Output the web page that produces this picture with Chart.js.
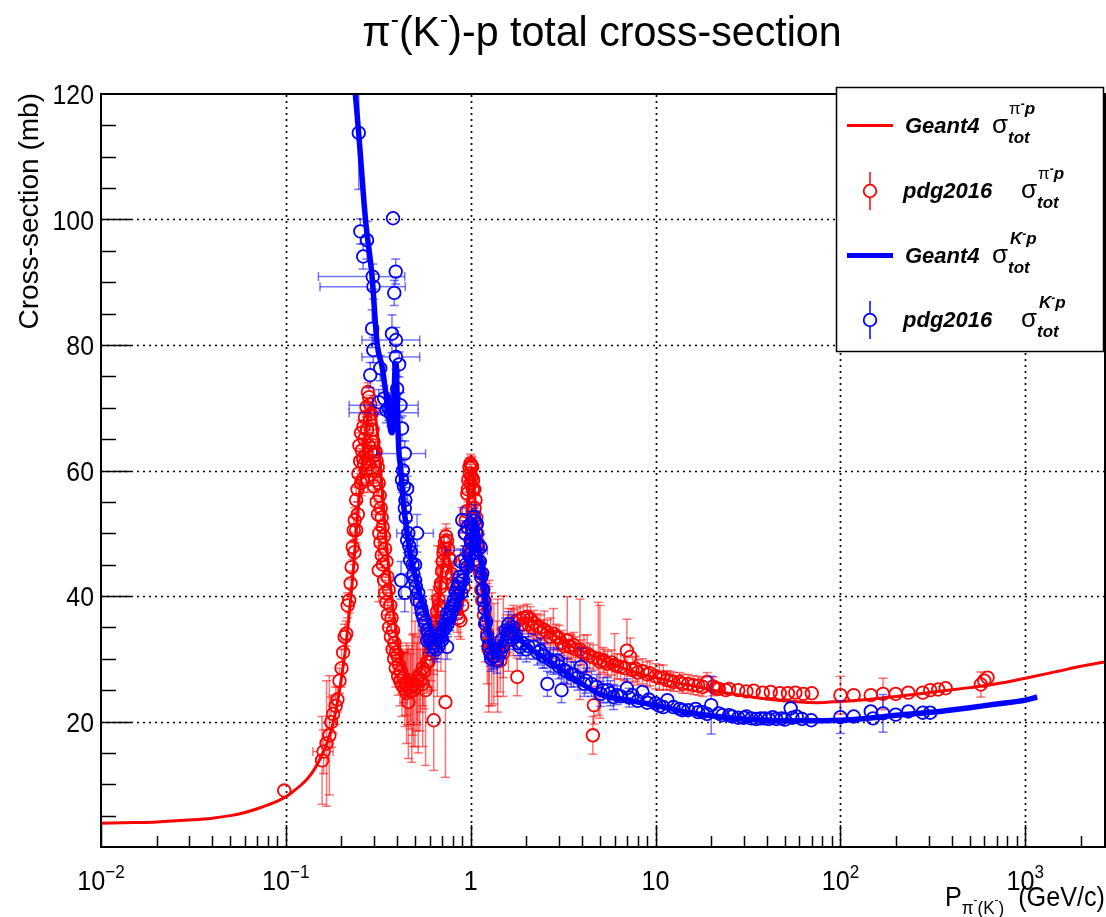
<!DOCTYPE html>
<html>
<head>
<meta charset="utf-8">
<script src="https://cdn.jsdelivr.net/npm/chart.js@4.4.1/dist/chart.umd.min.js"></script>
<style>
html,body{margin:0;padding:0;background:#fff;}
canvas{display:block;}
</style>
</head>
<body>
<canvas id="c" width="1106" height="917"></canvas>
<script>
// ---------------- axis ticks ----------------
const xMajor = [0.01, 0.1, 1, 10, 100, 1000];
const xLabelBase = ['10', '10', '1', '10', '10', '10'];
const xLabelExp  = ['\u22122', '\u22121', '', '', '2', '3'];
const yMajor = [20, 40, 60, 80, 100, 120];
const X_MIN = 0.01, X_MAX = 2700, Y_MIN = 0, Y_MAX = 120;

// ---------------- Geant4 pi- p total cross-section (line) ----------------
const g4PiP = [0.01,0.015,0.02,0.03,0.04,0.05,0.06,0.07,0.08,0.09,
  0.10,0.11,0.12,0.13,0.14,0.15,0.16,0.17,0.18,0.19,
  0.20,0.21,0.22,0.23,0.24,0.25,0.26,0.27,0.28,0.29,
  0.30,0.31,0.32,0.33,0.34,0.35,0.36,0.37,0.38,
  0.40,0.42,0.44,0.46,0.48,0.50,
  0.53,0.56,0.60,0.64,0.67,0.70,0.72,0.74,0.76,0.78,
  0.81,0.84,0.87,0.90,0.93,0.96,0.98,1.00,1.02,1.04,
  1.07,1.10,1.15,1.20,1.25,1.30,1.40,1.50,1.60,1.75,
  1.90,2.05,2.3,2.6,3.0,3.5,4.0,5.0,6.0,7.0,
  8.5,10,13,17,22,30,40,55,75,100,
  150,200,300,500,700,1000,1500,2000,2700];
const g4PiS = [3.8,3.9,4.0,4.3,4.6,5.0,5.5,6.1,6.7,7.3,
  8.0,8.9,9.8,10.8,12.0,13.5,15.2,17.2,19.8,23,
  27,31.5,37,43,50,56,61.5,66,69,70.5,
  70,67,63,58,53,48.5,44.5,41,38,
  33.5,30,27.8,26.8,26.5,26.8,
  27.8,29.3,31.5,35,39,44,46.5,47.5,46.5,44.5,
  41.5,38.5,37,38.5,44,53,58,60,59.5,57.5,
  53,48,41,36.5,34,32.5,31,31.5,33.5,35.5,
  36.3,36.5,35.5,34.5,33.2,32,31.2,30,29,28.3,
  27.5,27,26.2,25.5,24.8,24.1,23.6,23.2,23.0,23.2,
  23.6,24.0,24.6,25.4,26.0,26.9,28.0,28.8,29.5];

// ---------------- Geant4 K- p total cross-section (line) ----------------
const g4KP = [0.232,0.2377,0.2477,0.2693,0.2926,0.3114,0.3318,0.345,0.360,0.368,
  0.376,0.384,0.390,0.395,0.400,0.405,0.41,0.417,0.43,0.453,
  0.48,0.513,0.545,0.581,0.61,0.631,0.66,0.70,0.74,0.777,
  0.83,0.88,0.918,0.96,0.997,1.02,1.039,1.06,1.09,1.12,
  1.154,1.19,1.228,1.27,1.308,1.35,1.42,1.5,1.577,1.65,
  1.75,1.9,2.188,2.6,3.33,4.0,5.05,6.5,8,10,
  14,20,30,40,60,100,150,200,321,500,
  700,1000,1160];
const g4KS = [124,120,113.8,100.2,90.9,80.3,76.5,73,69.6,66.5,
  66,71,76.5,77,72,66,62.5,60.6,55.5,50,
  45.5,42,39,36.7,34.5,33.2,33,34,35.5,36.1,
  38.5,40,41.4,44,46.2,50,52,51.5,49,46.5,
  44.6,40.5,36.7,33,30.9,30.3,31.5,33.5,35,35,
  34,32.7,31.3,29.8,27.6,26.0,24.3,23.6,23.1,22.6,
  21.6,20.9,20.4,20.2,20.1,20.2,20.6,21.0,21.5,22.2,
  22.8,23.4,23.9];

// ---------------- pdg2016 pi- p data (momentum, sigma, sigma error) ----------------
const pdgPiP = [0.098,0.157,0.166,0.172,0.176,0.180,0.186,0.190,0.195,
  0.200,0.204,0.208,0.212,0.216,0.220,0.224,0.227,0.230,0.233,
  0.236,0.240,0.244,0.247,0.252,0.258,0.263,0.268,0.273,0.278,
  0.282,0.286,0.250,0.255,0.262,0.266,0.270,0.275,0.280,0.285,
  0.290,0.294,0.298,0.302,0.306,0.310,0.314,0.318,0.322,0.326,
  0.318,0.330,0.334,0.339,0.344,0.350,0.355,0.360,0.367,0.373,
  0.380,0.387,0.395,0.400,0.410,0.420,0.433,0.445,0.455,0.460,
  0.472,0.485,0.500,0.513,0.530,0.550,0.570,0.580,0.600,0.620,
  0.631,0.640,0.657,0.670,0.685,0.700,0.714,0.725,0.735,0.745,
  0.730,0.755,0.765,0.777,0.790,0.800,0.810,0.830,0.845,0.860,
  0.880,0.900,0.918,0.930,0.937,0.950,0.958,0.970,0.985,0.997,
  1.008,1.018,1.030,1.045,1.061,1.072,1.084,1.100,1.115,1.130,
  1.154,1.180,1.200,1.228,1.260,1.300,1.334,1.390,1.445,1.500,
  1.577,1.650,1.720,1.786,1.786,1.850,1.930,2.020,2.100,2.200,
  2.300,2.380,2.500,2.600,2.800,3.000,3.330,3.600,3.900,4.270,
  4.580,4.640,4.900,5.500,6.000,6.480,7.000,7.300,7.800,8.500,
  9.3,10,11,12,13.5,15,17,19,20.5,22,
  25,28,31,34,38,42,47,52,57,63,
  70,100,118,146,170,199,233,279,306,338,
  371,575,600,625,0.48,0.52,0.55,0.66,0.69,1.25,
  1.40,1.50,5.0,2.9,3.2,3.5,4.0,4.4,5.2,5.8];
const pdgPiS = [9.0,13.8,16.5,17.8,19.9,21.2,22.5,23.5,26.5,
  28.5,31.0,33.5,34.0,38.5,39.3,42.0,44.6,47.8,50.5,
  52.1,55.3,57.0,59.5,61.5,63.2,67.0,68.5,70.1,72.5,
  71.7,70.5,64.0,66.0,62.0,65.0,60.0,66.5,64.0,68.0,
  69.0,66.5,64.5,62.5,63.0,61.5,60.5,58.0,56.0,54.0,
  44.1,52.5,51.0,49.5,47.5,45.5,43.0,41.0,38.5,36.5,
  34.5,32.5,31.0,30.5,29.0,28.0,27.0,26.0,25.5,23.1,
  25.5,25.8,26.0,26.5,27.5,28.5,25.0,29.5,30.8,33.0,
  20.2,35.0,37.5,39.5,41.4,44.0,46.8,48.5,49.5,48.8,
  23.1,47.5,46.0,45.7,43.5,42.0,41.4,39.0,37.2,36.5,
  36.1,38.5,41.4,46.0,49.9,53.5,56.3,58.5,60.5,61.1,
  60.8,60.6,58.5,57.0,55.3,52.5,50.0,47.5,45.5,43.6,
  39.3,37.0,35.5,34.0,32.5,31.5,30.8,30.0,29.7,31.0,
  34.0,35.0,35.8,36.1,27.1,36.3,36.5,36.7,36.3,35.7,
  35.2,35.0,34.6,34.2,34.0,33.3,32.9,32.2,31.5,30.8,
  17.8,22.6,30.0,29.2,29.0,28.7,31.3,30.3,28.4,28.0,
  27.7,27.2,27.0,26.5,26.3,26.0,25.7,26.3,25.6,25.2,
  25.2,25.0,24.8,24.9,24.6,24.7,24.5,24.5,24.6,24.4,
  24.5,24.2,24.2,24.2,24.4,24.4,24.6,24.6,25.0,25.1,
  25.3,25.9,26.5,27.0,26.5,27.0,26.0,36.0,38.0,31.5,
  30.5,32.0,29.5,33.5,32.0,31.8,31.0,30.5,29.8,29.4];
const pdgPiE = [0.3,7.0,10.0,9.5,4.0,3.0,3.0,2.0,2.0,
  3,2,2,2,2,2,2,2,2,2,
  2,2,2,2,2,2,2,2,1.5,1.5,
  1.5,1.5,2,2,2,2,2,2,2,2,
  1.5,2,2,2,2,2,2,2,2,2,
  5,2,2,2,2,2,2,2,2,2,
  2,2,2,2,3,3,4,5,6,9,
  6,8,10,7,9,6,12,5,6,8,
  8,5,4,6,3,4,3,2,2,2,
  12,2,2,2,2,2,2,2,3,3,
  3,2,2,2,2,2,2,2,1.5,1.5,
  1.5,1.5,2,2,2,2,2,2,2,3,
  4,5,6,8,10,9,8,6,5,4,
  3,3,2,2,3,2,2,2,2,2,
  2,2,3,2,4,2,7,2,8,3,
  3,3,9,2,5,2,5,3,2,2,
  2,2,2,1.5,1.5,1.5,1.5,1.5,1.5,1,
  1,1,1,1,1,1,1,1,1,1,
  1,3,1,1,2.5,1,1,1,1,1,
  1,2,1,1,13,12,10,12,10,10,
  9,8,9,2,2,2,2,2,2,2];
// further pi- p points filling the dense bands
const pdgPiBandP = [0.235,0.240,0.245,0.255,0.260,0.265,0.272,0.277,0.283,0.289,
  0.295,0.300,0.305,0.310,0.315,0.320,0.325,0.330,0.335,0.340,
  0.345,0.350,0.356,0.362,0.370,0.378,0.385,0.393,0.405,0.415,
  0.425,0.440,0.450,0.470,0.490,0.510,0.535,0.560,0.590,0.610,
  0.630,0.650,0.675,0.690,0.705,0.720,0.940,0.965,0.990,1.000,
  1.012,1.025,1.050,1.065,1.090,1.120,1.140,1.600,1.700,1.900,
  2.050,2.150,2.400,2.700,3.100,3.400,3.700,4.100,4.600,5.300,
  6.200,6.800,7.500,8.000,9.000,10.50,11.50,12.50,14.00,16.00,
  18.00,21.00,24.00];
const pdgPiBandS = [47,50.5,53,58,58.5,61,62.5,58.5,61,63,
  60,57.5,58.5,55,53,50,48.5,46.5,45,42.5,
  40.5,39,37,35,33.5,31.5,30,28.5,27.2,26.5,
  25.8,25.2,24.5,24.8,25,25.5,26.5,28,29.5,31.5,
  33.5,36,38.5,42,45.5,47.5,52,57,59.5,58,
  59,57,54,51.5,48.5,44,41,33,34.5,35.5,
  35.5,35,34.2,33.5,32.5,32,31.5,30.8,30.2,29.5,
  28.8,28.5,28.2,27.8,27.5,27.0,26.6,26.3,26.0,25.8,
  25.5,25.3,25.0];
const pdgPiBandE = [2,2,2,2,2,2,2,2,2,2,
  2,2,2,2,2,2,2,2,2,2,
  2,2,2,2,2,2,2,3,3,4,
  5,6,8,6,9,7,5,6,4,5,
  6,4,5,3,3,2,2,2,2,2,
  2,2,2,2,2,2,2,5,4,2,
  2,2,2,3,2,2,2,3,2,2,
  2,2,2,2,2,2,1.5,1.5,1.5,1.5,
  1.5,1,1];
// pi- p points that also carry a momentum error
const pdgPixP = [0.160];
const pdgPixS = [15.2];
const pdgPixE = [3.5];
const pdgPixXE = [0.02];

// ---------------- pdg2016 K- p data ----------------
const pdgKP = [0.248,0.253,0.262,0.275,0.293,0.297,0.286,0.324,
  0.318,0.350,0.380,0.393,0.386,0.375,0.410,0.417,
  0.425,0.340,0.360,0.370,0.400,0.425,0.453,0.443,
  0.453,0.470,0.500,0.513,0.546,0.581,0.581,0.631,0.660,0.685,
  0.745,0.745,0.780,0.810,0.845,0.870,0.900,0.958,0.997,
  1.040,1.080,1.130,1.154,1.180,1.200,1.280,1.390,1.500,1.577,
  1.700,1.850,2.200,2.380,2.600,2.950,3.100,3.950,4.120,5.050,
  5.92,6.5,7.0,7.5,8.5,9.2,10,11.6,12.5,13.5,
  15,16.5,18,20,22,25,28,31,35,39,
  43,48,53.8,58,69.5,100,118,146,150,170,
  199,233,279,306,0.600,0.650,0.700,0.720,0.760,0.800,
  0.830,0.860,0.880,0.930,0.960,1.000,1.020,1.060,1.100,1.160,
  1.230,1.320,1.450,1.620,1.800,2.000,2.500,2.800,3.300,3.600,
  4.500,5.500,0.420,0.500,0.440];
const pdgKS = [113.8,98.1,94.1,96.7,82.6,79.2,75.2,76.3,
  70.9,69.6,100.2,91.7,88.3,81.8,76.9,70.4,
  66.7,71.5,70.0,69.0,73.0,58.5,57.1,55.3,
  48.9,45.7,42.5,39.3,37.2,34.5,32.9,31.9,33.0,34.0,
  31.9,37.2,38.0,39.3,41.4,43.0,52.1,44.6,48.9,
  52.6,51.5,47.8,43.6,39.3,35.6,30.8,29.7,32.0,34.0,
  35.0,31.9,31.9,31.3,26.0,29.7,25.0,28.7,26.0,24.4,
  23.9,24.0,25.3,24.2,24.7,23.5,22.9,23.4,22.3,22.0,
  21.8,22.0,21.5,22.6,21.3,21.0,20.6,20.8,20.4,20.5,
  20.7,20.5,22.1,20.8,20.2,20.7,20.8,21.6,20.5,21.3,
  21.1,21.6,21.4,21.4,33.5,31.5,33.0,35.5,36.5,38.5,
  40.5,42.0,45.5,50.0,51.0,51.5,50.5,49.0,45.0,41.0,
  33.5,30.3,31.0,33.5,32.5,31.5,30.5,29.5,28.0,27.5,
  26.0,25.0,42.5,45.0,40.5];
const pdgKE = [9,2,2,3,3,2,2,2,
  2,2,1,2,2,3,2,2,
  2,2,2,2,2,2,2,2,
  2,2,2,2,2,2,2,2,2,2,
  2,2,2,2,2,2,2,2,2,
  2,2,2,2,2,2,2,2,2,2,
  2,2,2,2,2,2,2,3,2,2,
  2,1,1.5,1,1,1,1,1,1,1,
  1,1,1,4.6,1,1,1,1,1,1,
  1,1,1,1,1,2.6,1,1,1,3,
  1,1,1,1,2,2,2,2,2,2,
  2,2,2,2,2,2,2,2,2,2,
  2,2,2,2,2,2,2,2,2,2,
  2,2,3,3,3];
// further K- p points filling the dense bands
const pdgKBandP = [0.430,0.435,0.440,0.445,0.460,0.465,0.475,0.485,0.490,0.505,
  0.520,0.530,0.540,0.555,0.565,0.590,0.600,0.615,0.640,0.670,
  0.690,0.710,0.730,0.750,0.770,0.790,0.820,0.850,0.890,0.910,
  0.940,0.980,1.010,1.030,1.050,1.070,1.090,1.120,1.140,1.170,
  1.190,1.210,1.250,1.290,1.340,1.420,1.470,1.540,1.600,1.660,
  1.750,1.900,2.050,2.300,2.450,2.700,3.000,3.200,3.500,3.800,
  4.200,4.800,5.200,5.700,6.200,7.200,8.000,9.000,10.50,11.00,
  14.00,17.00,19.00,23.00,26.00,30.00,33.00,37.00,41.00,45.00,
  50.00,55.00,62.00];
const pdgKBandS = [60,57.5,54,52.5,50,48,47,45,43.5,41.5,
  40.5,39,38,36.5,35.8,34,33,32.5,32.5,32,
  33.5,34.5,35,35.5,36.5,37.5,38.5,40,40.5,42.5,
  45,46.5,48.5,50.5,52,50,48,45.5,43,41,
  38,36,32,30,30.5,31.5,33,34.5,35.5,34.5,
  33.5,32.5,32,31,30.5,29.8,28.8,28.2,27.5,27,
  26.5,25.5,25,24.5,24.2,23.8,23.3,23,22.5,22.3,
  21.8,21.5,21.2,21.0,20.8,20.6,20.5,20.5,20.4,20.4,
  20.3,20.6,20.4];
const pdgKBandE = [2,2,2,2,2,2,2,2,2,2,
  2,2,2,2,2,2,2,2,2,2,
  2,2,2,2,2,2,2,2,2,2,
  2,2,2,2,2,2,2,2,2,2,
  2,2,2,2,2,2,2,2,2,2,
  2,2,2,2,2,2,2,2,2,2,
  2,2,2,2,1.5,1.5,1,1,1,1,
  1,1,1,1,1,1,1,1,1,1,
  1,1,1];
// K- p points that also carry a momentum error
const pdgKxP  = [0.295,0.298,0.394,0.394,0.370,0.370,0.440,0.513,0.980];
const pdgKxS  = [90.9,89.3,80.8,78.1,70.4,69.2,62.7,50.0,47.3];
const pdgKxE  = [2,2,2,2,2,2,2,3,2];
const pdgKxXE = [0.145,0.145,0.136,0.136,0.150,0.150,0.130,0.115,0.250];

// ---------------- styling ----------------
const FONT = '"Liberation Sans", Arial, Helvetica, sans-serif';
const RED = '#ff0000', BLUE = '#0000ff';
const RED_ERR = 'rgba(255,0,0,0.55)', BLUE_ERR = 'rgba(0,0,255,0.55)';
const MARKER_R = 6.3;

function toXY(P, S) { return P.map((p, i) => ({ x: p, y: S[i] })); }
const zeros = P => P.map(() => 0);

const redP = pdgPiP.concat(pdgPiBandP, pdgPixP), redS = pdgPiS.concat(pdgPiBandS, pdgPixS);
const redE = pdgPiE.concat(pdgPiBandE, pdgPixE), redXE = zeros(pdgPiP).concat(zeros(pdgPiBandP), pdgPixXE);
const blueP = pdgKP.concat(pdgKBandP, pdgKxP), blueS = pdgKS.concat(pdgKBandS, pdgKxS);
const blueE = pdgKE.concat(pdgKBandE, pdgKxE), blueXE = zeros(pdgKP).concat(zeros(pdgKBandP), pdgKxXE);

const errInfo = {
  1: { P: blueP, S: blueS, E: blueE, XE: blueXE, color: BLUE_ERR },
  3: { P: redP, S: redS, E: redE, XE: redXE, color: RED_ERR }
};

// ---------------- text helpers ----------------
function drawText(ctx, s, x, y, font, o) {
  o = o || {};
  ctx.save();
  ctx.font = font;
  ctx.fillStyle = o.color || '#000';
  ctx.textAlign = o.align || 'left';
  ctx.textBaseline = o.baseline || 'alphabetic';
  ctx.translate(x, y);
  ctx.scale(o.sx || 1, 1);
  if (o.rot) ctx.rotate(o.rot);
  ctx.fillText(s, 0, 0);
  ctx.restore();
}
// parts: {t, f, dy, gap}
function drawRich(ctx, parts, x, y, align, sx) {
  sx = sx || 1;
  const widths = parts.map(p => {
    if (p.gap) return p.gap;
    ctx.font = p.f; return ctx.measureText(p.t).width * sx;
  });
  const total = widths.reduce((a, b) => a + b, 0);
  let cx = align === 'center' ? x - total / 2 : (align === 'right' ? x - total : x);
  parts.forEach((p, i) => {
    if (!p.gap) drawText(ctx, p.t, cx, y + (p.dy || 0), p.f, { sx: sx, color: p.color });
    cx += widths[i];
  });
  return total;
}

function line(ctx, x1, y1, x2, y2) { ctx.beginPath(); ctx.moveTo(x1, y1); ctx.lineTo(x2, y2); ctx.stroke(); }

// ---------------- plugin ----------------
const rootStyle = {
  id: 'rootStyle',
  beforeDatasetsDraw(chart) {
    const { ctx, chartArea: a, scales: { x, y } } = chart;
    ctx.save();
    ctx.strokeStyle = '#000';
    ctx.lineWidth = 1.7;
    ctx.setLineDash([2, 4]);
    xMajor.forEach(v => {
      const px = Math.round(x.getPixelForValue(v)) + 0.5;
      if (px > a.left + 3 && px < a.right - 3) line(ctx, px, a.bottom, px, a.top);
    });
    yMajor.forEach(v => {
      const py = Math.round(y.getPixelForValue(v)) + 0.5;
      if (py > a.top + 3 && py < a.bottom - 3) line(ctx, a.left, py, a.right, py);
    });
    ctx.restore();
  },
  beforeDatasetDraw(chart, args) {
    const info = errInfo[args.index];
    if (!info) return;
    const { ctx, chartArea: a, scales: { x, y } } = chart;
    ctx.save();
    ctx.beginPath(); ctx.rect(a.left, a.top, a.right - a.left, a.bottom - a.top); ctx.clip();
    ctx.strokeStyle = info.color;
    ctx.lineWidth = 1.5;
    const cap = 4.5, r = MARKER_R;
    for (let i = 0; i < info.P.length; i++) {
      const px = x.getPixelForValue(info.P[i]);
      const py = y.getPixelForValue(info.S[i]);
      const e = info.E[i];
      if (e > 0) {
        const yt = y.getPixelForValue(info.S[i] + e);
        const yb = y.getPixelForValue(info.S[i] - e);
        if (py - yt > r) {
          line(ctx, px, py - r, px, yt);
          line(ctx, px - cap, yt, px + cap, yt);
          line(ctx, px, py + r, px, yb);
          line(ctx, px - cap, yb, px + cap, yb);
        }
      }
      const xe = info.XE[i];
      if (xe > 0) {
        const xl = x.getPixelForValue(Math.max(info.P[i] - xe, 1e-4));
        const xr = x.getPixelForValue(info.P[i] + xe);
        line(ctx, xl, py, px - r, py);
        line(ctx, px + r, py, xr, py);
        line(ctx, xl, py - cap, xl, py + cap);
        line(ctx, xr, py - cap, xr, py + cap);
      }
    }
    ctx.restore();
  },
  afterDatasetsDraw(chart) {
    const { ctx, chartArea: a, scales: { x, y } } = chart;
    ctx.save();
    ctx.strokeStyle = '#000';
    ctx.lineWidth = 2;
    ctx.setLineDash([]);
    ctx.strokeRect(a.left, a.top, a.right - a.left, a.bottom - a.top);
    // y ticks (inside, on the left axis)
    ctx.lineWidth = 1.5;
    for (let v = 5; v < Y_MAX; v += 5) {
      const py = Math.round(y.getPixelForValue(v)) + 0.5;
      const len = (v % 20 === 0) ? 30 : 15;
      line(ctx, a.left, py, a.left + len, py);
    }
    // x ticks (inside, on the bottom axis)
    for (let d = -2; d <= 3; d++) {
      for (let k = 1; k <= 9; k++) {
        const v = k * Math.pow(10, d);
        if (v < X_MIN || v > X_MAX) continue;
        const px = Math.round(x.getPixelForValue(v)) + 0.5;
        const len = (k === 1) ? 22 : 11;
        line(ctx, px, a.bottom, px, a.bottom - len);
      }
    }
    ctx.restore();
  },
  afterDraw(chart) {
    const { ctx, chartArea: a, scales: { x, y } } = chart;
    // y tick labels
    yMajor.forEach(v => {
      const py = y.getPixelForValue(v);
      drawText(ctx, String(v), a.left - 7, py + 10, '27px ' + FONT, { align: 'right', sx: 0.92 });
    });
    // x tick labels (power-of-ten notation)
    xMajor.forEach((v, i) => {
      const px = x.getPixelForValue(v);
      const parts = [{ t: xLabelBase[i], f: '28px ' + FONT }];
      if (xLabelExp[i]) parts.push({ t: xLabelExp[i], f: '19px ' + FONT, dy: -12 });
      drawRich(ctx, parts, px, 890, 'center', 0.9);
    });
    // title
    drawRich(ctx, [
      { t: '\u03c0', f: '42px ' + FONT },
      { t: '-', f: '25px ' + FONT, dy: -18 },
      { t: '(K', f: '42px ' + FONT },
      { t: '-', f: '25px ' + FONT, dy: -18 },
      { t: ')-p total cross-section', f: '42px ' + FONT }
    ], 602, 46, 'center', 0.98);
    // y axis title
    drawText(ctx, 'Cross-section (mb)', 38, 93, '28px ' + FONT, { align: 'right', rot: -Math.PI / 2 });
    // x axis title
    drawRich(ctx, [
      { t: 'P', f: '28px ' + FONT },
      { t: '\u03c0', f: '19px ' + FONT, dy: 8 },
      { t: '-', f: '13px ' + FONT, dy: -2 },
      { t: '(K', f: '19px ' + FONT, dy: 8 },
      { t: '-', f: '13px ' + FONT, dy: -2 },
      { t: ')', f: '19px ' + FONT, dy: 8 },
      { gap: 14 },
      { t: '(GeV/c)', f: '28px ' + FONT }
    ], a.right, 906, 'right', 0.9);
    drawLegend(ctx);
  }
};

function drawLegend(ctx) {
  const bx = 836, by = 87, bw = 268, bh = 265;
  ctx.save();
  ctx.fillStyle = '#fff';
  ctx.fillRect(bx, by, bw, bh);
  ctx.strokeStyle = '#000';
  ctx.lineWidth = 1.5;
  ctx.setLineDash([]);
  ctx.strokeRect(bx + 0.5, by + 0.5, bw - 1, bh - 1);
  const rows = [125.5, 191, 255.5, 320];
  const LB = 'italic bold 22px ' + FONT;
  const SUP = 'italic bold 17px ' + FONT;
  const SUPm = 'bold 12px ' + FONT;
  const SIG = '26px ' + FONT;
  function sigma(x, yb, particle) {
    drawText(ctx, '\u03c3', x, yb, SIG, {});
    const sx = x + 16;
    if (particle === 'pi') {
      drawRich(ctx, [{ t: '\u03c0', f: '17px ' + FONT }, { t: '-', f: SUPm, dy: -6 }, { t: 'p', f: SUP }], sx + 1, yb - 19, 'left');
    } else {
      drawRich(ctx, [{ t: 'K', f: SUP }, { t: '-', f: SUPm, dy: -6 }, { t: 'p', f: SUP }], sx + 2, yb - 19, 'left');
    }
    drawText(ctx, 'tot', sx, yb + 10, SUP, {});
  }
  // row 1: Geant4 pi- p line
  ctx.strokeStyle = RED; ctx.lineWidth = 3;
  line(ctx, 847, rows[0], 893, rows[0]);
  drawText(ctx, 'Geant4', 905, rows[0] + 7, LB, {});
  sigma(992, rows[0] + 7, 'pi');
  // row 2: pdg pi- p marker
  ctx.strokeStyle = RED; ctx.lineWidth = 1.5;
  line(ctx, 870, rows[1] - 19, 870, rows[1] - MARKER_R);
  line(ctx, 870, rows[1] + MARKER_R, 870, rows[1] + 19);
  ctx.lineWidth = 1.8;
  ctx.beginPath(); ctx.arc(870, rows[1], MARKER_R, 0, 2 * Math.PI); ctx.stroke();
  drawText(ctx, 'pdg2016', 903, rows[1] + 7, LB, {});
  sigma(1021, rows[1] + 7, 'pi');
  // row 3: Geant4 K- p line
  ctx.strokeStyle = BLUE; ctx.lineWidth = 5;
  line(ctx, 847, rows[2], 893, rows[2]);
  drawText(ctx, 'Geant4', 905, rows[2] + 7, LB, {});
  sigma(992, rows[2] + 7, 'K');
  // row 4: pdg K- p marker
  ctx.strokeStyle = BLUE; ctx.lineWidth = 1.5;
  line(ctx, 870, rows[3] - 19, 870, rows[3] - MARKER_R);
  line(ctx, 870, rows[3] + MARKER_R, 870, rows[3] + 19);
  ctx.lineWidth = 1.8;
  ctx.beginPath(); ctx.arc(870, rows[3], MARKER_R, 0, 2 * Math.PI); ctx.stroke();
  drawText(ctx, 'pdg2016', 903, rows[3] + 7, LB, {});
  sigma(1021, rows[3] + 7, 'K');
  ctx.restore();
}

// ---------------- chart ----------------
const pointDs = (P, S, color) => ({
  data: toXY(P, S), showLine: false,
  pointStyle: 'circle', pointRadius: MARKER_R, pointHoverRadius: MARKER_R,
  pointBorderColor: color, pointBackgroundColor: 'rgba(0,0,0,0)', pointBorderWidth: 1.8,
  clip: 0
});
const lineDs = (P, S, color, w) => ({
  data: toXY(P, S), showLine: true, borderColor: color, borderWidth: w,
  pointRadius: 0, pointHoverRadius: 0, cubicInterpolationMode: 'monotone',
  fill: false, clip: 0
});

new Chart(document.getElementById('c'), {
  type: 'scatter',
  data: {
    datasets: [
      lineDs(g4KP, g4KS, BLUE, 5.5),
      pointDs(blueP, blueS, BLUE),
      lineDs(g4PiP, g4PiS, RED, 3),
      pointDs(redP, redS, RED)
    ]
  },
  options: {
    responsive: false,
    animation: false,
    devicePixelRatio: 1,
    events: [],
    layout: { autoPadding: false, padding: { top: 94, right: 1, left: 0, bottom: 0 } },
    plugins: { legend: { display: false }, title: { display: false }, tooltip: { enabled: false } },
    scales: {
      x: {
        type: 'logarithmic', min: X_MIN, max: X_MAX,
        ticks: { display: false }, grid: { display: false }, border: { display: false },
        afterFit: s => { s.height = 70; }
      },
      y: {
        type: 'linear', min: Y_MIN, max: Y_MAX,
        ticks: { display: false, stepSize: 20 }, grid: { display: false }, border: { display: false },
        afterFit: s => { s.width = 101; }
      }
    }
  },
  plugins: [rootStyle]
});
</script>
</body>
</html>
